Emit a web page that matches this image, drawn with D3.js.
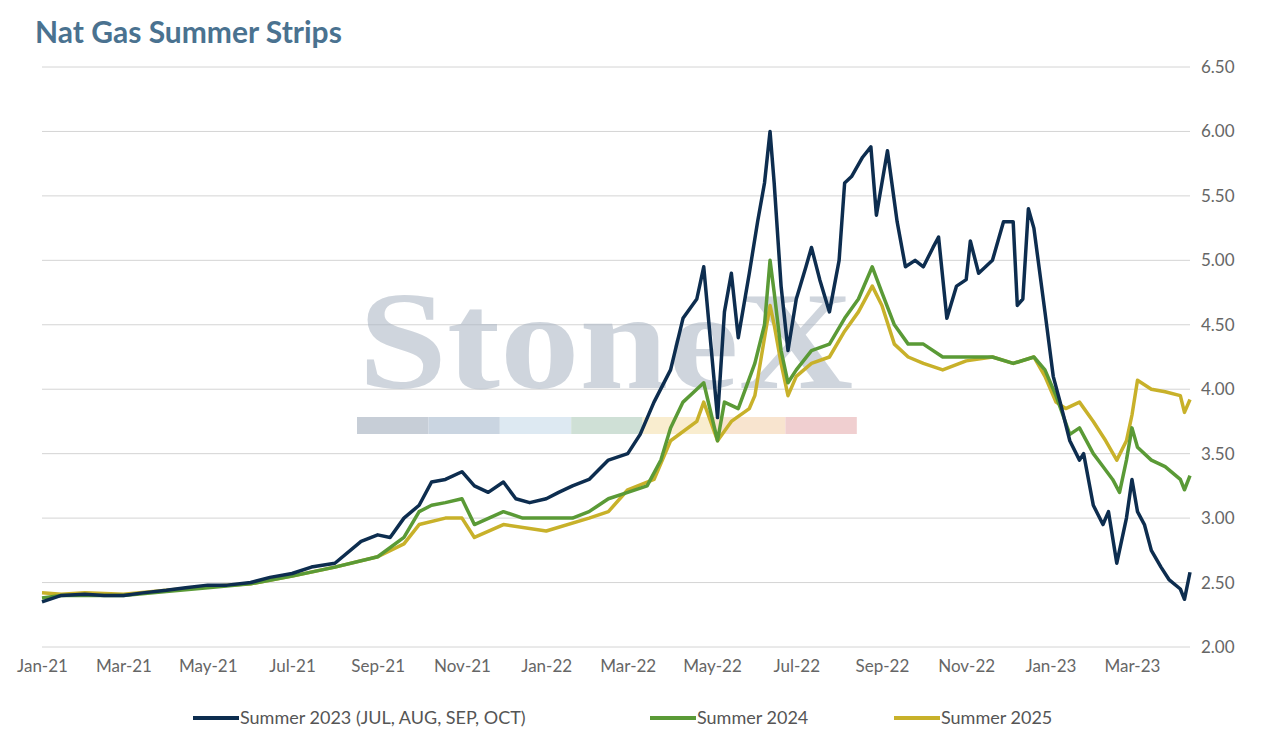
<!DOCTYPE html>
<html>
<head>
<meta charset="utf-8">
<script src="https://cdn.jsdelivr.net/npm/d3@7"></script>
<style>
body { margin: 0; background: #fff; font-family: Lato, "Open Sans", sans-serif; }
.axis text { fill: #666; font-size: 17px; font-family: Lato, sans-serif; }
.axis path, .axis line { display: none; }
</style>
</head>
<body>
<svg id="chart" width="1269" height="737"></svg>
<script>
// series: [date, value]
const s2023 = [
 ['2021-01-01',2.35],['2021-01-15',2.40],['2021-02-01',2.41],['2021-02-15',2.40],['2021-03-01',2.40],['2021-03-15',2.42],
 ['2021-04-01',2.44],['2021-04-15',2.46],['2021-05-01',2.48],['2021-05-15',2.48],['2021-06-01',2.50],['2021-06-15',2.54],
 ['2021-07-01',2.57],['2021-07-15',2.62],['2021-08-01',2.65],['2021-08-20',2.82],['2021-09-01',2.87],['2021-09-10',2.85],
 ['2021-09-20',3.00],['2021-10-01',3.10],['2021-10-10',3.28],['2021-10-20',3.30],['2021-11-01',3.36],['2021-11-10',3.25],
 ['2021-11-20',3.20],['2021-12-01',3.28],['2021-12-10',3.15],['2021-12-20',3.12],['2022-01-01',3.15],['2022-01-10',3.20],
 ['2022-01-20',3.25],['2022-02-01',3.30],['2022-02-15',3.45],['2022-03-01',3.50],['2022-03-10',3.65],['2022-03-20',3.90],
 ['2022-04-01',4.15],['2022-04-10',4.55],['2022-04-20',4.70],['2022-04-25',4.95],['2022-05-05',3.78],['2022-05-10',4.60],
 ['2022-05-15',4.90],['2022-05-20',4.40],['2022-05-28',4.90],['2022-06-03',5.30],['2022-06-08',5.60],['2022-06-12',6.00],
 ['2022-06-15',5.60],['2022-06-20',4.80],['2022-06-25',4.30],['2022-07-01',4.70],['2022-07-08',4.95],['2022-07-12',5.10],
 ['2022-07-18',4.85],['2022-07-25',4.60],['2022-08-01',5.00],['2022-08-05',5.60],['2022-08-10',5.65],['2022-08-18',5.80],
 ['2022-08-24',5.88],['2022-08-28',5.35],['2022-09-05',5.85],['2022-09-12',5.30],['2022-09-18',4.95],['2022-09-25',5.00],
 ['2022-10-01',4.95],['2022-10-08',5.10],['2022-10-12',5.18],['2022-10-18',4.55],['2022-10-25',4.80],['2022-11-01',4.85],
 ['2022-11-04',5.15],['2022-11-10',4.90],['2022-11-20',5.00],['2022-11-28',5.30],['2022-12-05',5.30],['2022-12-08',4.65],
 ['2022-12-12',4.70],['2022-12-16',5.40],['2022-12-20',5.25],['2022-12-28',4.60],['2023-01-03',4.10],['2023-01-08',3.90],
 ['2023-01-15',3.60],['2023-01-22',3.45],['2023-01-25',3.50],['2023-02-01',3.10],['2023-02-08',2.95],['2023-02-12',3.05],
 ['2023-02-18',2.65],['2023-02-25',3.00],['2023-03-01',3.30],['2023-03-05',3.05],['2023-03-10',2.95],['2023-03-15',2.75],
 ['2023-03-22',2.62],['2023-03-28',2.52],['2023-04-05',2.45],['2023-04-08',2.37],['2023-04-12',2.58]
];
const s2024 = [
 ['2021-01-01',2.38],['2021-01-15',2.40],['2021-02-01',2.40],['2021-03-01',2.40],['2021-04-01',2.43],['2021-05-01',2.46],
 ['2021-06-01',2.49],['2021-07-01',2.55],['2021-08-01',2.62],['2021-09-01',2.70],['2021-09-20',2.85],['2021-10-01',3.05],
 ['2021-10-10',3.10],['2021-10-20',3.12],['2021-11-01',3.15],['2021-11-10',2.95],['2021-12-01',3.05],['2021-12-15',3.00],
 ['2022-01-01',3.00],['2022-01-20',3.00],['2022-02-01',3.05],['2022-02-15',3.15],['2022-03-01',3.20],['2022-03-15',3.25],
 ['2022-03-25',3.45],['2022-04-01',3.70],['2022-04-10',3.90],['2022-04-20',4.00],['2022-04-25',4.05],['2022-05-05',3.60],
 ['2022-05-10',3.90],['2022-05-20',3.85],['2022-06-01',4.20],['2022-06-08',4.50],['2022-06-12',5.00],['2022-06-15',4.75],
 ['2022-06-20',4.30],['2022-06-25',4.05],['2022-07-01',4.15],['2022-07-12',4.30],['2022-07-25',4.35],['2022-08-05',4.55],
 ['2022-08-15',4.70],['2022-08-25',4.95],['2022-09-01',4.75],['2022-09-10',4.50],['2022-09-20',4.35],['2022-10-01',4.35],
 ['2022-10-15',4.25],['2022-11-01',4.25],['2022-11-20',4.25],['2022-12-05',4.20],['2022-12-20',4.25],['2022-12-28',4.15],
 ['2023-01-05',3.95],['2023-01-10',3.80],['2023-01-15',3.65],['2023-01-22',3.70],['2023-02-01',3.50],['2023-02-08',3.40],
 ['2023-02-15',3.30],['2023-02-20',3.20],['2023-02-25',3.45],['2023-03-01',3.70],['2023-03-05',3.55],['2023-03-15',3.45],
 ['2023-03-25',3.40],['2023-04-05',3.30],['2023-04-08',3.22],['2023-04-12',3.33]
];
const s2025 = [
 ['2021-01-01',2.42],['2021-01-15',2.41],['2021-02-01',2.42],['2021-03-01',2.41],['2021-04-01',2.44],['2021-05-01',2.47],
 ['2021-06-01',2.49],['2021-07-01',2.55],['2021-08-01',2.62],['2021-09-01',2.70],['2021-09-20',2.80],['2021-10-01',2.95],
 ['2021-10-20',3.00],['2021-11-01',3.00],['2021-11-10',2.85],['2021-12-01',2.95],['2022-01-01',2.90],['2022-02-01',3.00],
 ['2022-02-15',3.05],['2022-03-01',3.22],['2022-03-20',3.30],['2022-04-01',3.60],['2022-04-20',3.75],['2022-04-25',3.90],
 ['2022-05-05',3.60],['2022-05-15',3.75],['2022-05-28',3.85],['2022-06-01',3.95],['2022-06-08',4.40],['2022-06-12',4.65],
 ['2022-06-15',4.50],['2022-06-20',4.20],['2022-06-25',3.95],['2022-07-01',4.10],['2022-07-12',4.20],['2022-07-25',4.25],
 ['2022-08-05',4.45],['2022-08-15',4.60],['2022-08-25',4.80],['2022-09-01',4.65],['2022-09-10',4.35],['2022-09-20',4.25],
 ['2022-10-01',4.20],['2022-10-15',4.15],['2022-11-01',4.22],['2022-11-20',4.25],['2022-12-05',4.20],['2022-12-20',4.25],
 ['2022-12-28',4.10],['2023-01-05',3.90],['2023-01-12',3.85],['2023-01-22',3.90],['2023-02-01',3.75],['2023-02-10',3.60],
 ['2023-02-18',3.45],['2023-02-25',3.60],['2023-03-01',3.80],['2023-03-05',4.07],['2023-03-15',4.00],['2023-03-25',3.98],
 ['2023-04-05',3.95],['2023-04-08',3.82],['2023-04-12',3.92]
];
const seriesNames = ['Summer 2023 (JUL, AUG, SEP, OCT)', 'Summer 2024', 'Summer 2025'];
const seriesColors = ['#0d2d4f', '#5a9a36', '#c8b12a'];
const yTicks = [2.0, 2.5, 3.0, 3.5, 4.0, 4.5, 5.0, 5.5, 6.0, 6.5];

const parse = d3.timeParse('%Y-%m-%d');
const allSeries = [s2023, s2024, s2025].map(s => s.map(d => ({ date: parse(d[0]), value: d[1] })));

const svg = d3.select('#chart');
const margin = { left: 42, right: 1190, top: 67, bottom: 647 };

const x = d3.scaleTime().domain([parse('2021-01-01'), parse('2023-04-12')]).range([margin.left, margin.right]);
const y = d3.scaleLinear().domain([2, 6.5]).range([margin.bottom, margin.top]);

// title
svg.append('text').attr('x', 35).attr('y', 43).text('Nat Gas Summer Strips')
  .style('font-size', '30px').style('font-weight', 'bold').style('fill', '#4a7290');

// gridlines
svg.append('g').selectAll('line').data(yTicks).enter().append('line')
  .attr('x1', margin.left).attr('x2', margin.right)
  .attr('y1', d => y(d)).attr('y2', d => y(d))
  .style('stroke', '#d4d4d4').style('stroke-width', 1);

// watermark
const wm = svg.append('g').attr('opacity', 0.55);
wm.append('text').attr('x', 606).attr('y', 388).attr('text-anchor', 'middle')
  .attr('textLength', 495).attr('lengthAdjust', 'spacingAndGlyphs')
  .text('StoneX').style('font-family', '"Liberation Serif", serif').style('font-size', '140px')
  .style('font-weight', 'bold').style('fill', '#a9b4c2');
const wmColors = ['#9aa7b8', '#9fb4c9', '#c3d8e8', '#a9c7b5', '#f5e0a8', '#f3cfa8', '#e5a8aa'];
wm.selectAll('rect').data(wmColors).enter().append('rect')
  .attr('x', (d, i) => 357 + i * 71.4).attr('y', 417).attr('width', 71.4).attr('height', 17)
  .style('fill', d => d);

// lines
const line = d3.line().x(d => x(d.date)).y(d => y(d.value));
svg.append('g').selectAll('path').data(allSeries.slice().reverse()).enter().append('path')
  .attr('d', line).style('fill', 'none')
  .style('stroke', (d, i) => seriesColors[2 - i]).style('stroke-width', 3.5)
  .style('stroke-linejoin', 'round');

// axes
svg.append('g').attr('class', 'axis').attr('transform', `translate(${margin.right + 8},0)`)
  .call(d3.axisRight(y).tickValues(yTicks).tickFormat(d3.format('.2f')).tickSize(0));
const xTicks = d3.timeMonth.range(parse('2021-01-01'), parse('2023-04-01'), 2);
svg.append('g').attr('class', 'axis').attr('transform', `translate(0,${margin.bottom + 10})`)
  .call(d3.axisBottom(x).tickValues(xTicks).tickFormat(d3.timeFormat('%b-%y')).tickSize(0));

// legend
const legend = svg.append('g').attr('transform', 'translate(0,718)');
const legendX = [193, 650, 894];
seriesNames.forEach((name, i) => {
  const g = legend.append('g').attr('transform', `translate(${legendX[i]},0)`);
  g.append('line').attr('x1', 0).attr('x2', 46).style('stroke', seriesColors[i]).style('stroke-width', 4);
  g.append('text').attr('x', 47).attr('y', 6).text(name).style('font-size', '18px').style('fill', '#555');
});
</script>
</body>
</html>
